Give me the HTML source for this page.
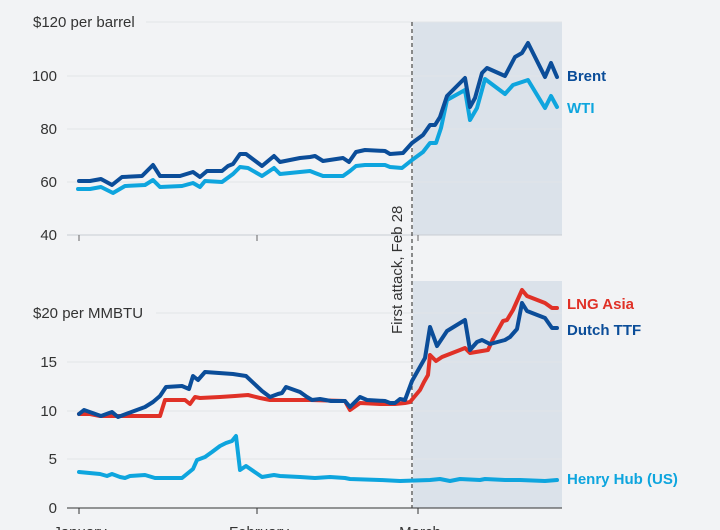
<!DOCTYPE html>
<html><head><meta charset="utf-8"><style>
html,body{margin:0;padding:0;background:#f2f3f5;}
svg{display:block;font-family:"Liberation Sans",sans-serif;}
</style></head><body>
<svg width="720" height="530" viewBox="0 0 720 530" xmlns="http://www.w3.org/2000/svg">
<rect width="720" height="530" fill="#f2f3f5"/>
<rect x="413" y="22" width="149" height="213" fill="#dbe2ea"/>
<rect x="413" y="281" width="149" height="227" fill="#dbe2ea"/>
<g stroke="#e2e4e8" stroke-width="1">
<line x1="146" y1="22" x2="562" y2="22"/>
<line x1="67" y1="76" x2="562" y2="76"/>
<line x1="67" y1="129" x2="562" y2="129"/>
<line x1="67" y1="182" x2="562" y2="182"/>
<line x1="156" y1="313" x2="562" y2="313"/>
<line x1="67" y1="362" x2="562" y2="362"/>
<line x1="67" y1="411" x2="562" y2="411"/>
<line x1="67" y1="459" x2="562" y2="459"/>
</g>
<g stroke="#c8ccd2" stroke-width="1"><line x1="67" y1="235" x2="562" y2="235"/></g>
<g stroke="#333" stroke-width="1"><line x1="67" y1="508" x2="562" y2="508"/>
<line x1="79" y1="508" x2="79" y2="514"/><line x1="257" y1="508" x2="257" y2="514"/><line x1="418" y1="508" x2="418" y2="514"/></g>
<g stroke="#666" stroke-width="1"><line x1="79" y1="235" x2="79" y2="241"/><line x1="257" y1="235" x2="257" y2="241"/><line x1="418" y1="235" x2="418" y2="241"/></g>
<line x1="412" y1="22" x2="412" y2="508" stroke="#444" stroke-width="1.2" stroke-dasharray="4,3"/>
<g font-size="15" fill="#333" text-anchor="end">
<text x="57" y="81">100</text><text x="57" y="134">80</text><text x="57" y="187">60</text><text x="57" y="240">40</text>
<text x="57" y="367">15</text><text x="57" y="416">10</text><text x="57" y="464">5</text><text x="57" y="513">0</text>
</g>
<g font-size="15" fill="#333">
<text x="33" y="27">$120 per barrel</text>
<text x="33" y="318">$20 per MMBTU</text>
<text x="80" y="537" text-anchor="middle">January</text>
<text x="259" y="537" text-anchor="middle">February</text>
<text x="420" y="537" text-anchor="middle">March</text>
<text transform="translate(402,334) rotate(-90)">First attack, Feb 28</text>
</g>
<g fill="none" stroke-width="4" stroke-linejoin="round" stroke-linecap="round">
<polyline stroke="#0ea5de" points="78,189 90,189 101,187 113,193 125,186 145,185 153,180 160,187 182,186 193,183 200,187 205,181 222,182 233,174 240,167 248,168 262,176 274,168 280,174 300,172 310,171 315,173 323,176 343,176 350,171 356,166 365,165 385,165 390,167 402,168 412,160 423,152 430,143 436,143 441,128 447,100 465,90 470,120 477,108 485,79 505,94 513,85 528,80 545,108 551,96 557,107"/>
<polyline stroke="#0b4d99" points="79,181 90,181 101,179 112,185 122,177 142,176 153,165 160,176 180,176 193,172 200,177 207,171 222,171 228,166 233,164 240,154 246,154 262,166 274,156 280,162 300,158 310,157 315,156 323,161 343,158 349,162 356,152 365,150 385,151 390,154 403,153 412,143 423,135 430,125 435,125 440,117 447,96 465,78 470,107 475,98 482,73 487,68 505,76 515,57 522,53 528,43 545,77 551,63 557,77"/>
<polyline stroke="#0ea5de" points="79,472 100,474 107,476 112,474 120,477 125,478 130,476 145,475 155,478 182,478 193,469 197,460 205,457 212,452 220,446 226,443 232,441 236,436 240,470 246,466 262,477 274,475 280,476 300,477 315,478 330,477 345,478 350,479 380,480 400,481 430,480 440,479 450,481 460,479 480,480 485,479 505,480 520,480 545,481 557,480"/>
<polyline stroke="#e03127" points="79,414 90,414 100,416 125,416 160,416 165,400 185,400 190,404 195,397 200,398 220,397 235,396 248,395 260,398 270,400 310,400 345,401 350,410 360,403 380,404 395,404 405,403 410,402 420,390 424,382 428,375 430,355 436,361 442,357 460,350 465,348 470,353 488,350 493,339 503,321 507,320 513,310 522,290 527,296 545,303 552,308 557,308"/>
<polyline stroke="#0b4d99" points="79,414 84,410 101,416 112,412 118,417 145,407 153,402 160,396 166,387 182,386 189,389 193,376 198,380 205,372 233,374 246,376 262,391 270,397 278,394 282,393 286,387 300,392 307,397 312,400 320,399 331,401 345,401 350,407 360,397 367,400 385,401 390,403 395,403 400,399 405,400 412,381 425,358 430,327 437,346 447,331 465,320 470,350 477,342 482,340 490,344 505,340 510,337 517,329 522,303 527,311 545,318 552,328 557,328"/>
</g>
<g font-size="15" font-weight="bold">
<text x="567" y="81" fill="#0b4d99">Brent</text>
<text x="567" y="113" fill="#0ea5de">WTI</text>
<text x="567" y="309" fill="#e03127">LNG Asia</text>
<text x="567" y="335" fill="#0b4d99">Dutch TTF</text>
<text x="567" y="484" fill="#0ea5de">Henry Hub (US)</text>
</g>
</svg>
</body></html>
